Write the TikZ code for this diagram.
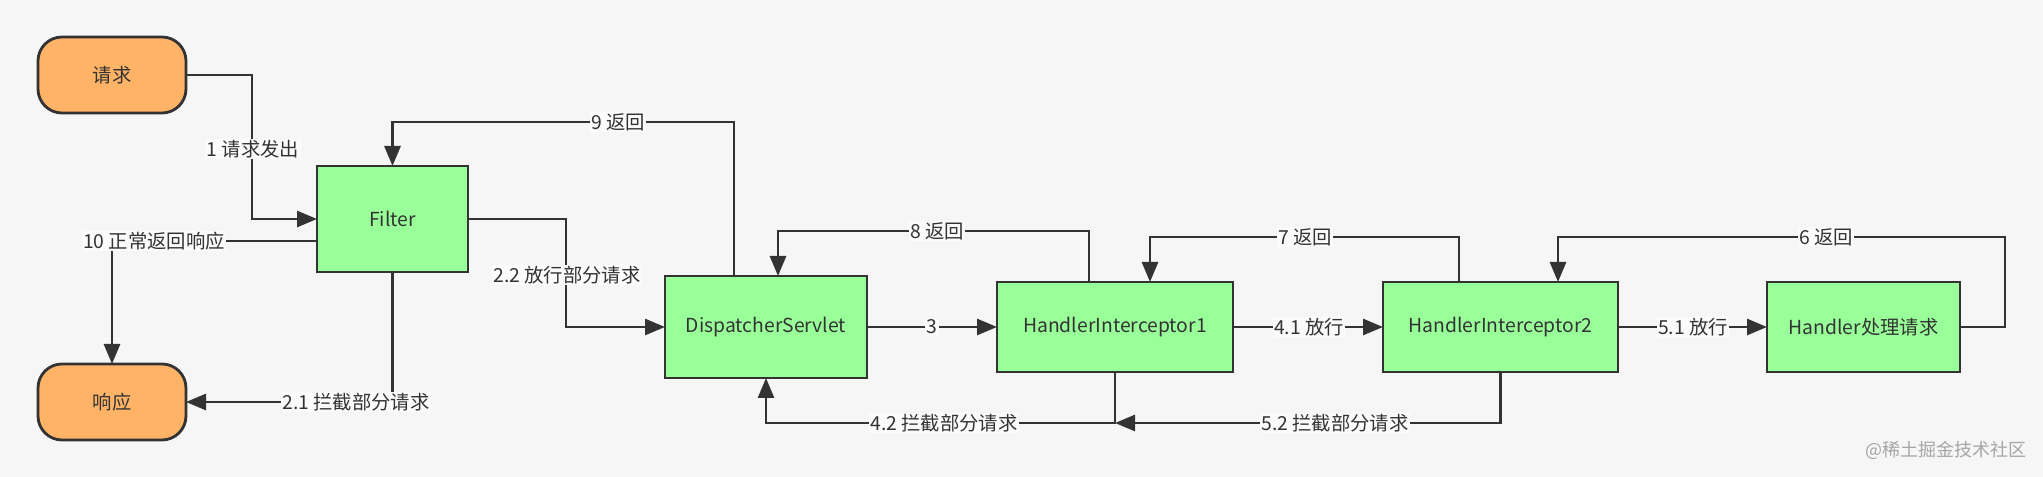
\documentclass[tikz,border=0pt]{standalone}
\usepackage{fontspec}
\setmainfont{Noto Sans CJK SC}
\usetikzlibrary{arrows.meta,calc}
\definecolor{bgc}{HTML}{F6F6F6}
\definecolor{lblbg}{HTML}{FBFBFB}
\definecolor{orangec}{HTML}{FFB366}
\definecolor{greenc}{HTML}{99FF99}
\definecolor{strokec}{HTML}{333333}
\definecolor{wmc}{HTML}{A6A6A6}
\begin{document}
\begin{tikzpicture}[x=0.75pt,y=-0.75pt,
  txt/.style={font=\fontsize{14.5}{16}\selectfont, text=strokec},
  term/.style={txt, draw=strokec, line width=2.1pt, fill=orangec, rounded corners=18pt,
    minimum width=111pt, minimum height=57pt, inner sep=0pt, outer sep=0pt},
  proc/.style={txt, draw=strokec, line width=2.1pt, fill=greenc, inner sep=0pt, outer sep=0pt, minimum height=67.5pt},
  arr/.style={draw=strokec, line width=2.1pt, -{Triangle[length=15pt,width=12pt]}},
  lbl/.style={txt, fill=lblbg, inner sep=1pt}]
\fill[bgc] (0,0) rectangle (2043,477);
\useasboundingbox (0,0) rectangle (2043,477);

% nodes
\node[term] (req) at (112,75) {请求};
\node[term] (resp) at (112,402) {响应};
\node[proc, minimum width=113.25pt, minimum height=79.5pt] (filter) at (392.5,219) {Filter};
\node[proc, minimum width=151.5pt, minimum height=76.5pt] (ds) at (766,327) {DispatcherServlet};
\node[proc, minimum width=177pt] (hi1) at (1115,327) {HandlerInterceptor1};
\node[proc, minimum width=176.25pt] (hi2) at (1500.5,327) {HandlerInterceptor2};
\node[proc, minimum width=144.75pt] (handler) at (1863.5,327) {Handler处理请求};

% helper coordinates
\coordinate (c1) at (252,75);
\coordinate (c9a) at (734,122);
\coordinate (c9b) at (392.5,122);
\coordinate (c22) at (566,219);
\coordinate (c10) at (112,241);
\coordinate (c21) at (392.5,402);
\coordinate (c8a) at (1089,231);
\coordinate (c8b) at (778,231);
\coordinate (c7a) at (1459,237);
\coordinate (c7b) at (1150,237);
\coordinate (c42) at (1115,423);
\coordinate (c6a) at (2005,237);
\coordinate (c6b) at (1558,237);

% connectors
\draw[arr] (req.east) -- (c1) |- (filter.west);
\draw[arr] (c9a |- ds.north) -- (c9a) -- (c9b) -- (filter.north);
\draw[arr] (filter.east) -- (c22) |- (ds.west);
\draw[arr] (filter.west |- c10) -- (c10) -- (resp.north);
\draw[arr] (filter.south) -- (c21) -- (resp.east);
\draw[arr] (c8a |- hi1.north) -- (c8a) -- (c8b) -- (c8b |- ds.north);
\draw[arr] (ds.east) -- (hi1.west);
\draw[arr] (c7a |- hi2.north) -- (c7a) -- (c7b) -- (c7b |- hi1.north);
\draw[arr] (hi1.east) -- (hi2.west);
\draw[arr] (hi1.south) -- (c42) -| (ds.south);
\draw[arr] (hi2.south) |- (c42);
\draw[arr] (handler.east) -| (c6a) -- (c6b) -- (c6b |- hi2.north);
\draw[arr] (hi2.east) -- (handler.west);

% labels
\node[lbl] (l1) at (253,149) {1 请求发出};
\node[lbl] (l9) at (618,122) {9 返回};
\node[lbl] (l22) at (567,275) {2.2 放行部分请求};
\node[lbl] (l10) at (154,241) {10 正常返回响应};
\node[lbl] (l21) at (356,402) {2.1 拦截部分请求};
\node[lbl] (l8) at (937,231) {8 返回};
\node[lbl] (l3) at (932,327) {3};
\node[lbl] (l7) at (1305,237) {7 返回};
\node[lbl] (l41) at (1309,327) {4.1 放行};
\node[lbl] (l42) at (944,423) {4.2 拦截部分请求};
\node[lbl] (l52) at (1335,423) {5.2 拦截部分请求};
\node[lbl] (l6) at (1826,237) {6 返回};
\node[lbl] (l51) at (1693,327) {5.1 放行};

% watermark
\node[font=\fontsize{13.5}{15}\selectfont, text=wmc, inner sep=0pt] (wm) at (1946,450) {@稀土掘金技术社区};
\end{tikzpicture}
\end{document}
